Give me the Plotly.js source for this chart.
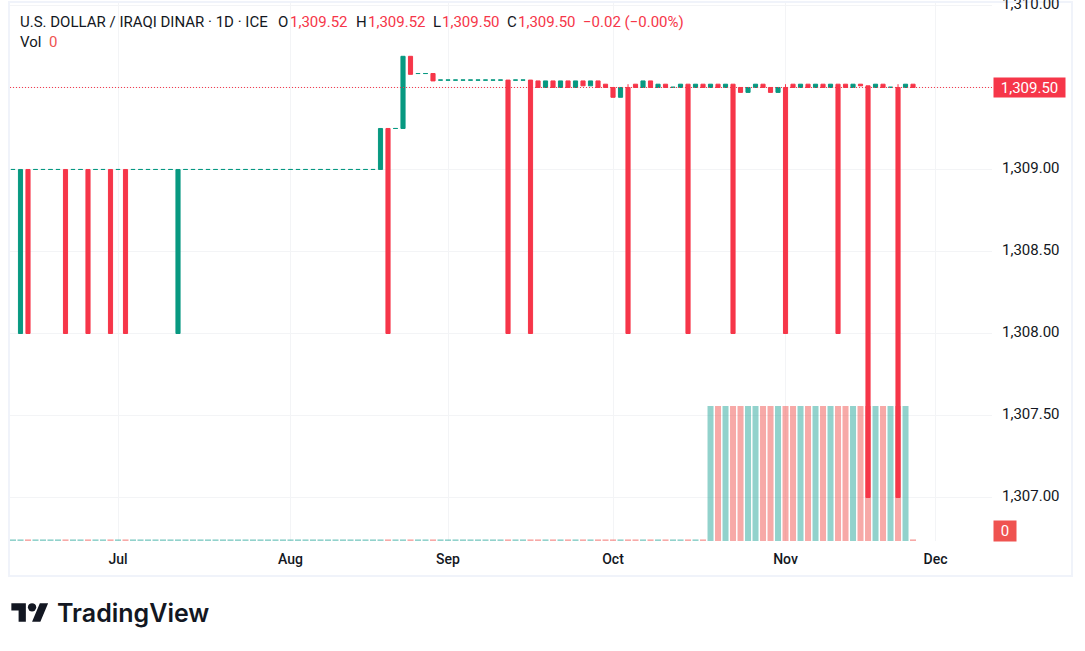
<!DOCTYPE html>
<html><head><meta charset="utf-8">
<script src="https://cdn.plot.ly/plotly-3.0.1.min.js"></script>
<style>html,body{margin:0;padding:0;background:#fff;overflow:hidden}#chart{position:absolute;left:0;top:0;width:1085px;height:651px}
#logo{position:absolute;left:11px;top:599px}</style></head>
<body><div id="chart"></div>
<svg id="logo" width="38" height="29" viewBox="0 0 36 28"><path fill="#131722" d="M14 22H7V11H0V4h14v18zM28 22h-8l7.5-18h8L28 22z"/><circle fill="#131722" cx="20" cy="8" r="4"/></svg>
<script>
const dates = [
"2025-06-11","2025-06-12","2025-06-13","2025-06-16","2025-06-17","2025-06-18","2025-06-19","2025-06-20","2025-06-23","2025-06-24","2025-06-25","2025-06-26","2025-06-27","2025-06-30",
"2025-07-01","2025-07-02","2025-07-03","2025-07-04","2025-07-07","2025-07-08","2025-07-09","2025-07-10","2025-07-11","2025-07-14","2025-07-15","2025-07-16","2025-07-17","2025-07-18","2025-07-21","2025-07-22","2025-07-23","2025-07-24","2025-07-25","2025-07-28","2025-07-29","2025-07-30","2025-07-31",
"2025-08-01","2025-08-04","2025-08-05","2025-08-06","2025-08-07","2025-08-08","2025-08-11","2025-08-12","2025-08-13","2025-08-14","2025-08-15","2025-08-18","2025-08-19","2025-08-20","2025-08-21","2025-08-22","2025-08-25","2025-08-26","2025-08-27","2025-08-28","2025-08-29",
"2025-09-01","2025-09-02","2025-09-03","2025-09-04","2025-09-05","2025-09-08","2025-09-09","2025-09-10","2025-09-11","2025-09-12","2025-09-15","2025-09-16","2025-09-17","2025-09-18","2025-09-19","2025-09-22","2025-09-23","2025-09-24","2025-09-25","2025-09-26","2025-09-29","2025-09-30",
"2025-10-01","2025-10-02","2025-10-03","2025-10-06","2025-10-07","2025-10-08","2025-10-09","2025-10-10","2025-10-13","2025-10-14","2025-10-15","2025-10-16","2025-10-17","2025-10-20","2025-10-21","2025-10-22","2025-10-23","2025-10-24","2025-10-27","2025-10-28","2025-10-29","2025-10-30","2025-10-31",
"2025-11-03","2025-11-04","2025-11-05","2025-11-06","2025-11-07","2025-11-10","2025-11-11","2025-11-12","2025-11-13","2025-11-14","2025-11-17","2025-11-18","2025-11-19","2025-11-20","2025-11-21","2025-11-24","2025-11-25","2025-11-26"];
const futureDates = ["2025-11-27","2025-11-28","2025-12-01","2025-12-02","2025-12-03","2025-12-04","2025-12-05","2025-12-08","2025-12-09","2025-12-10","2025-12-11"];

const opens = [
1309,1308,1309,1309,1309,1309,1309,1309,1309,1309,1309,1309,1309,1309,
1309,1309,1309,1309,1309,1309,1309,1309,1308,1309,1309,1309,1309,1309,1309,1309,1309,1309,1309,1309,1309,1309,1309,
1309,1309,1309,1309,1309,1309,1309,1309,1309,1309,1309,1309,1309,1309.25,1309.25,1309.25,1309.69,1309.585,1309.585,1309.585,1309.545,
1309.545,1309.545,1309.545,1309.545,1309.545,1309.545,1309.545,1309.545,1309.545,1309.545,1309.545,1309.545,1309.54,1309.5,1309.54,1309.5,1309.54,1309.5,1309.54,1309.51,1309.54,1309.52,
1309.5,1309.44,1309.5,1309.52,1309.5,1309.54,1309.5,1309.52,1309.501,1309.5,1309.52,1309.5,1309.52,1309.5,1309.52,1309.5,1309.52,1309.5,1309.47,1309.5,1309.52,1309.5,1309.47,
1309.5,1309.52,1309.5,1309.52,1309.5,1309.52,1309.5,1309.52,1309.52,1309.5,1309.52,1309.51,1309.5,1309.52,1309.501,1309.5,1309.5,1309.52];
const highs = [
1309,1309,1309,1309,1309,1309,1309,1309,1309,1309,1309,1309,1309,1309,
1309,1309,1309,1309,1309,1309,1309,1309,1309,1309,1309,1309,1309,1309,1309,1309,1309,1309,1309,1309,1309,1309,1309,
1309,1309,1309,1309,1309,1309,1309,1309,1309,1309,1309,1309,1309.25,1309.25,1309.25,1309.69,1309.69,1309.585,1309.585,1309.585,1309.545,
1309.545,1309.545,1309.545,1309.545,1309.545,1309.545,1309.545,1309.545,1309.545,1309.545,1309.545,1309.545,1309.54,1309.54,1309.54,1309.54,1309.54,1309.54,1309.54,1309.54,1309.54,1309.52,
1309.5,1309.5,1309.52,1309.52,1309.54,1309.54,1309.52,1309.52,1309.501,1309.52,1309.52,1309.52,1309.52,1309.52,1309.52,1309.52,1309.52,1309.5,1309.5,1309.52,1309.52,1309.5,1309.5,
1309.52,1309.52,1309.52,1309.52,1309.52,1309.52,1309.52,1309.52,1309.52,1309.52,1309.52,1309.51,1309.52,1309.52,1309.501,1309.52,1309.52,1309.52];
const lows = [
1309,1308,1308,1309,1309,1309,1309,1308,1309,1309,1308,1309,1309,1308,
1309,1308,1309,1309,1309,1309,1309,1309,1308,1309,1309,1309,1309,1309,1309,1309,1309,1309,1309,1309,1309,1309,1309,
1309,1309,1309,1309,1309,1309,1309,1309,1309,1309,1309,1309,1309,1308,1309.25,1309.25,1309.58,1309.585,1309.585,1309.54,1309.545,
1309.545,1309.545,1309.545,1309.545,1309.545,1309.545,1309.545,1309.545,1308,1309.545,1309.545,1308,1309.5,1309.5,1309.5,1309.5,1309.5,1309.5,1309.51,1309.51,1309.5,1309.5,
1309.44,1309.44,1308,1309.5,1309.5,1309.5,1309.5,1309.5,1309.501,1309.5,1308,1309.5,1309.5,1309.5,1309.5,1309.5,1308,1309.47,1309.47,1309.5,1309.5,1309.47,1309.47,
1308,1309.5,1309.5,1309.5,1309.5,1309.5,1309.5,1308,1309.5,1309.5,1309.51,1307,1309.5,1309.5,1309.501,1307,1309.5,1309.5];
const closes = [
1309,1309,1308,1309,1309,1309,1309,1308,1309,1309,1308,1309,1309,1308,
1309,1308,1309,1309,1309,1309,1309,1309,1309,1309,1309,1309,1309,1309,1309,1309,1309,1309,1309,1309,1309,1309,1309,
1309,1309,1309,1309,1309,1309,1309,1309,1309,1309,1309,1309,1309.25,1308,1309.25,1309.69,1309.58,1309.585,1309.585,1309.54,1309.545,
1309.545,1309.545,1309.545,1309.545,1309.545,1309.545,1309.545,1309.545,1308,1309.545,1309.545,1308,1309.5,1309.54,1309.5,1309.54,1309.5,1309.54,1309.51,1309.54,1309.5,1309.5,
1309.44,1309.5,1308,1309.5,1309.54,1309.5,1309.52,1309.5,1309.501,1309.52,1308,1309.52,1309.5,1309.52,1309.5,1309.52,1308,1309.47,1309.5,1309.52,1309.5,1309.47,1309.5,
1308,1309.5,1309.52,1309.5,1309.52,1309.5,1309.52,1308,1309.5,1309.52,1309.51,1307,1309.52,1309.5,1309.501,1307,1309.52,1309.5];
const volumes = [
.012,.012,.012,.012,.012,.012,.012,.012,.012,.012,.012,.012,.012,.012,
.012,.012,.012,.012,.012,.012,.012,.012,.012,.012,.012,.012,.012,.012,.012,.012,.012,.012,.012,.012,.012,.012,.012,
.012,.012,.012,.012,.012,.012,.012,.012,.012,.012,.012,.012,.012,.012,.012,.012,.012,.012,.012,.012,.012,
.012,.012,.012,.012,.012,.012,.012,.012,.012,.012,.012,.012,.012,.012,.012,.012,.012,.012,.012,.012,.012,.012,
.012,.012,.012,.012,.012,.012,.012,.012,.012,.012,.012,.012,.012,1,1,1,1,1,1,1,1,1,1,
1,1,1,1,1,1,1,1,1,1,1,1,1,1,1,1,1,.012];

const monthTicks = ["2025-07-01","2025-08-01","2025-09-01","2025-10-01","2025-11-03","2025-12-01"];
const monthLabels = ["Jul","Aug","Sep","Oct","Nov","Dec"];
const priceTicks = [1307,1307.5,1308,1308.5,1309,1309.5,1310];
const priceLabels = ["1,307.00","1,307.50","1,308.00","1,308.50","1,309.00","","1,310.00"];
const lastClose = 1309.5;

const UP="#089981", DOWN="#F63649", INK="#131722", GRID="#F3F4F6", FRAME="#F0F3FA";
const FONT="Roboto, Arial, sans-serif";
const W=1085,H=651,L=10,R=992,T=3,B=541;
const px=x=>(x-L)/(R-L), py=y=>(B-y)/(B-T);

function label(text,x,y,color,extra){
  return Object.assign({xref:'paper',yref:'paper',x:px(x),y:py(y),text:text,showarrow:false,xanchor:'left',yanchor:'middle',
    align:'left',font:{family:FONT,size:15,color:color},borderpad:0},extra||{});
}
const VALUE=DOWN;
const annotations=[
  label("U.S. DOLLAR / IRAQI DINAR · 1D · ICE",19,22,INK),
  label("O",277,22,INK),label("1,309.52",289,22,VALUE),
  label("H",355,22,INK),label("1,309.52",367,22,VALUE),
  label("L",432,22,INK),label("1,309.50",441,22,VALUE),
  label("C",506,22,INK),label("1,309.50",517,22,VALUE),
  label("−0.02 (−0.00%)",582,22,VALUE),
  label("Vol",19,42,INK),label("0",48,42,"#EF5350"),
  {xref:'paper',yref:'y2',x:px(993),y:lastClose,xanchor:'left',yanchor:'middle',showarrow:false,text:"1,309.50",
   width:71,height:19,bgcolor:DOWN,font:{family:FONT,size:15,color:"#fff"},align:'center',valign:'middle',borderpad:0},
  {xref:'paper',yref:'paper',x:px(993),y:py(530.5),xanchor:'left',yanchor:'middle',showarrow:false,text:"0",
   width:22,height:20,bgcolor:"#EF5350",font:{family:FONT,size:15,color:"#fff"},align:'center',valign:'middle',borderpad:0},
  label("TradingView",55.5,613,INK,{font:{family:"Inter, Roboto, sans-serif",size:25,color:INK,weight:600}})
];

const traces=[
 {type:'bar',x:dates,y:volumes,yaxis:'y',xaxis:'x',width:0.8,
  marker:{color:opens.map((o,i)=>o>closes[i]?"rgba(239,83,80,0.5)":"rgba(38,166,154,0.5)"),line:{width:0}},hoverinfo:'skip'},
 {type:'candlestick',x:dates,open:opens,high:highs,low:lows,close:closes,yaxis:'y2',xaxis:'x',whiskerwidth:0,
  increasing:{line:{color:UP,width:1},fillcolor:UP},decreasing:{line:{color:DOWN,width:1},fillcolor:DOWN},hoverinfo:'skip'}
];
const layout={
 width:W,height:H,margin:{l:L,r:W-R,t:T,b:H-B,pad:0},paper_bgcolor:'#fff',plot_bgcolor:'#fff',showlegend:false,
 boxgap:0.45,boxgroupgap:0,bargap:0.2,dragmode:false,
 xaxis:{type:'category',categoryorder:'array',categoryarray:dates.concat(futureDates),range:[-0.4,130.53],
  tickmode:'array',tickvals:monthTicks,ticktext:monthLabels,showgrid:true,gridcolor:GRID,gridwidth:1,zeroline:false,showline:false,
  ticks:'outside',ticklen:5,tickcolor:'rgba(0,0,0,0)',tickfont:{family:FONT,size:14,color:INK,weight:500},rangeslider:{visible:false},fixedrange:true},
 yaxis:{range:[0,(B-T)/135],visible:false,showgrid:false,zeroline:false,fixedrange:true},
 yaxis2:{overlaying:'y',side:'right',range:[1306.735,1310.015],tickmode:'array',tickvals:priceTicks,ticktext:priceLabels,
  showgrid:true,gridcolor:GRID,gridwidth:1,zeroline:false,showline:false,ticklabeloverflow:'allow',ticklabelshift:-2,
  ticks:'outside',ticklen:6,tickcolor:'rgba(0,0,0,0)',tickfont:{family:FONT,size:15,color:INK},fixedrange:true},
 shapes:[
  {type:'line',xref:'paper',x0:0,x1:1,yref:'y2',y0:lastClose,y1:lastClose,layer:'above',line:{color:DOWN,width:1,dash:'1px,2px'}},
  {type:'rect',xref:'paper',yref:'paper',x0:px(9),x1:px(1072),y0:py(2),y1:py(576),layer:'below',line:{color:FRAME,width:2},fillcolor:'rgba(0,0,0,0)'}
 ],
 annotations:annotations
};
Plotly.newPlot('chart',traces,layout,{staticPlot:true,displayModeBar:false});
</script></body></html>
